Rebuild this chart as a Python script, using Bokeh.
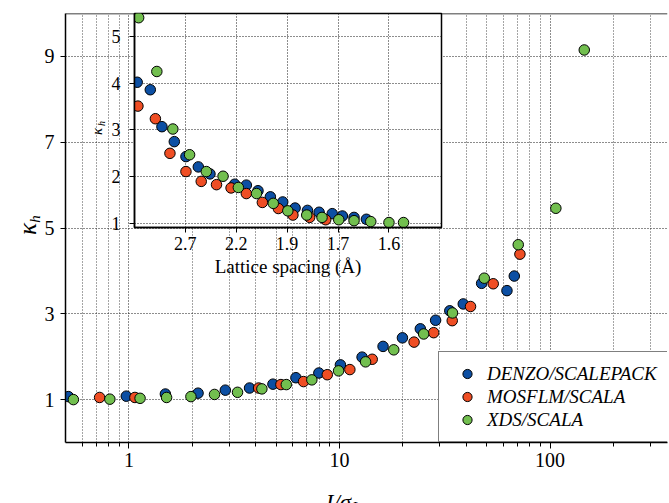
import math

from bokeh.embed import file_html
from bokeh.layouts import column
from bokeh.models import (CustomJSTickFormatter, FixedTicker, Label, Legend,
                          LegendItem, Range1d, Span)
from bokeh.plotting import figure
from bokeh.resources import INLINE

# ---------------------------------------------------------------------------
# Data: kappa_h against I/sigma(I) (main panel) and against resolution (inset)
# ---------------------------------------------------------------------------
series_names = ["DENZO/SCALEPACK", "MOSFLM/SCALA", "XDS/SCALA"]
series_colors = ["#0c4fa3", "#ef4e24", "#72bf4f"]

denzo_isig = [0.516, 0.972, 1.49, 2.13, 2.87, 3.74, 4.83, 6.21, 7.98, 10.1,
              12.8, 16.1, 19.9, 24.2, 28.6, 33.4, 38.7, 47.3, 62.4, 67.6]
denzo_kappa = [1.07, 1.08, 1.13, 1.15, 1.22, 1.27, 1.36, 1.51, 1.62, 1.81,
               1.99, 2.24, 2.44, 2.65, 2.85, 3.07, 3.23, 3.71, 3.54, 3.88]

mosflm_isig = [0.726, 1.068, 4.13, 5.27, 6.75, 8.75, 11.2, 14.3, 22.6, 28.0,
               34.3, 41.9, 53.7, 71.9]
mosflm_kappa = [1.05, 1.05, 1.27, 1.35, 1.42, 1.58, 1.70, 1.94, 2.34, 2.56,
                2.84, 3.17, 3.70, 4.39]

xds_isig = [0.545, 0.812, 1.13, 1.51, 1.97, 2.55, 3.28, 4.28, 5.59, 7.39,
            9.9, 13.3, 18.1, 25.1, 34.4, 48.7, 70.6, 106.5, 145.3]
xds_kappa = [1.00, 1.01, 1.03, 1.05, 1.07, 1.12, 1.17, 1.25, 1.35, 1.46,
             1.67, 1.88, 2.16, 2.53, 3.02, 3.83, 4.61, 5.46, 9.15]

# inset: resolution shells in 1/d^2 (A^-2)
denzo_s = [0.069, 0.087, 0.103, 0.120, 0.136, 0.153, 0.169, 0.203, 0.219,
           0.235, 0.252, 0.269, 0.286, 0.303, 0.319, 0.337, 0.351, 0.367, 0.384]
denzo_kappa_s = [4.02, 3.86, 3.07, 2.75, 2.43, 2.21, 2.06, 1.84, 1.82,
                 1.70, 1.57, 1.46, 1.33, 1.28, 1.24, 1.21, 1.16, 1.13, 1.09]

mosflm_s = [0.070, 0.094, 0.114, 0.136, 0.157, 0.178, 0.198, 0.219, 0.241,
            0.263, 0.283, 0.306, 0.328]
mosflm_kappa_s = [3.51, 3.24, 2.50, 2.11, 1.90, 1.83, 1.76, 1.64, 1.45,
                  1.32, 1.18, 1.13, 1.08]

xds_s = [0.071, 0.096, 0.118, 0.141, 0.164, 0.187, 0.208, 0.233, 0.256,
         0.276, 0.302, 0.323, 0.346, 0.367, 0.390, 0.415, 0.435]
xds_kappa_s = [5.40, 4.25, 3.02, 2.47, 2.11, 2.01, 1.77, 1.64, 1.43,
               1.27, 1.18, 1.13, 1.08, 1.06, 1.04, 1.02, 1.02]

# axis ticks
x_major_ticks = [1, 10, 100]
x_major_labels = ["1", "10", "100"]
x_minor_ticks = [0.6, 0.7, 0.8, 0.9, 2, 3, 4, 5, 6, 7, 8, 9,
                 20, 30, 40, 50, 60, 70, 80, 90, 200, 300]
y_ticks = [1, 3, 5, 7, 9]
inset_x_ticks = [0.135, 0.205, 0.275, 0.345, 0.415]
inset_x_labels = ["2.7", "2.2", "1.9", "1.7", "1.6"]
inset_y_ticks = [1, 2, 3, 4, 5]

SERIF = "Liberation Serif"
GRID = "#1a1a1a"
MINOR_GRID = "#4a4a4a"
W, H = 669, 503
LEFT, RIGHT = 65, 2          # shared side borders (frames of a column line up)
FRAME_W = W - LEFT - RIGHT


def label_formatter(tick_values, tick_texts):
    return CustomJSTickFormatter(
        args=dict(tick_values=tick_values, tick_texts=tick_texts),
        code="""
        const i = tick_values.findIndex(t => Math.abs(t - tick) < 1e-9);
        return i >= 0 ? tick_texts[i] : "";
        """,
    )


# ---------------------------------------------------------------------------
# Main panel
# ---------------------------------------------------------------------------
main = figure(width=W, height=H, x_axis_type="log",
              x_range=Range1d(0.5, 361), y_range=Range1d(0, 10),
              output_backend="svg", toolbar_location=None,
              min_border_left=LEFT, min_border_right=RIGHT,
              min_border_top=13, min_border_bottom=61)
main.outline_line_color = None
main.background_fill_color = "white"
main.border_fill_color = "white"

main.xaxis.ticker = FixedTicker(ticks=x_major_ticks, minor_ticks=x_minor_ticks)
main.xaxis.formatter = label_formatter(x_major_ticks, x_major_labels)
main.yaxis.ticker = FixedTicker(ticks=y_ticks)

for ax in (main.xaxis[0], main.yaxis[0]):
    ax.axis_line_width = 1.5
    ax.axis_line_color = "black"
    ax.major_tick_line_color = "black"
    ax.minor_tick_line_color = "black"
    ax.major_tick_in = 0
    ax.minor_tick_in = 0
    ax.major_label_text_font = SERIF
    ax.major_label_text_font_size = "20px"
    ax.major_label_text_color = "black"
main.xaxis.major_tick_out = 6
main.xaxis.minor_tick_out = 4
main.xaxis.major_label_standoff = 4
main.yaxis.major_tick_out = 5
main.yaxis.minor_tick_out = 0
main.yaxis.major_label_standoff = 6

main.xgrid.grid_line_color = GRID
main.xgrid.grid_line_dash = "1 2"
main.xgrid.minor_grid_line_color = MINOR_GRID
main.xgrid.minor_grid_line_dash = "1 2"
main.ygrid.grid_line_color = GRID
main.ygrid.grid_line_dash = "1 2"

# top border of the panel
main.add_layout(Span(location=10, dimension="width", line_color="black",
                     line_width=1.5))

marker_kw = dict(size=10.5, line_color="black", line_width=1)
r_denzo = main.scatter(denzo_isig, denzo_kappa, fill_color=series_colors[0], **marker_kw)
r_mosflm = main.scatter(mosflm_isig, mosflm_kappa, fill_color=series_colors[1], **marker_kw)
r_xds = main.scatter(xds_isig, xds_kappa, fill_color=series_colors[2], **marker_kw)

legend = Legend(
    items=[LegendItem(label=n, renderers=[r])
           for n, r in zip(series_names, [r_denzo, r_mosflm, r_xds])],
    location=(373, 0),
    label_text_font=SERIF, label_text_font_style="italic",
    label_text_font_size="19px", label_text_color="black",
    glyph_width=36, glyph_height=23, label_height=23, label_width=240,
    label_standoff=2, padding=10, spacing=0,
    border_line_color="black", border_line_width=1.5,
    background_fill_color="white", background_fill_alpha=1.0,
)
main.add_layout(legend)

# ---------------------------------------------------------------------------
# Inset: kappa_h against lattice spacing (frame spans x 134..441, y 13..227)
# ---------------------------------------------------------------------------
INSET_H = 287
inset = figure(width=LEFT + 307 + RIGHT, height=INSET_H,
               x_range=Range1d(0.0653, 0.4872), y_range=Range1d(0.914, 5.49),
               output_backend="svg", toolbar_location=None,
               min_border_left=LEFT, min_border_right=RIGHT,
               min_border_top=13, min_border_bottom=60)
inset.margin = (-H, 0, 0, 134 - LEFT)
inset.border_fill_color = None
inset.background_fill_color = "white"
inset.outline_line_color = "black"
inset.outline_line_width = 1.5

inset.xaxis.ticker = FixedTicker(ticks=inset_x_ticks)
inset.xaxis.formatter = label_formatter(inset_x_ticks, inset_x_labels)
inset.yaxis.ticker = FixedTicker(ticks=inset_y_ticks)
for ax in (inset.xaxis[0], inset.yaxis[0]):
    ax.axis_line_width = 1.5
    ax.axis_line_color = "black"
    ax.major_tick_line_color = "black"
    ax.major_tick_in = 0
    ax.major_tick_out = 5
    ax.minor_tick_out = 0
    ax.minor_tick_in = 0
    ax.major_label_text_font = SERIF
    ax.major_label_text_font_size = "18px"
    ax.major_label_text_color = "black"
inset.xaxis.major_label_standoff = 4
inset.yaxis.major_label_standoff = 9
inset.xaxis.axis_label = "Lattice spacing (Å)"
inset.xaxis.axis_label_text_font = SERIF
inset.xaxis.axis_label_text_font_style = "normal"
inset.xaxis.axis_label_text_font_size = "19px"
inset.xaxis.axis_label_text_color = "black"
inset.xaxis.axis_label_standoff = 3

inset.xgrid.grid_line_color = GRID
inset.xgrid.grid_line_dash = "1 2"
inset.ygrid.grid_line_color = GRID
inset.ygrid.grid_line_dash = "1 2"

inset.scatter(denzo_s, denzo_kappa_s, fill_color=series_colors[0], **marker_kw)
inset.scatter(mosflm_s, mosflm_kappa_s, fill_color=series_colors[1], **marker_kw)
inset.scatter(xds_s, xds_kappa_s, fill_color=series_colors[2], **marker_kw)

# ---------------------------------------------------------------------------
# Transparent layer over the page for the math-style axis titles
# (kappa_h on both vertical axes, I/sigma_I under the main panel).
# Its frame starts at the page's left edge, so x/y below are page pixels.
# ---------------------------------------------------------------------------
titles = figure(width=W, height=H,
                x_range=Range1d(0, FRAME_W), y_range=Range1d(H, 0),
                output_backend="svg", toolbar_location=None, title=None,
                x_axis_location=None, y_axis_location=None,
                min_border_left=LEFT, min_border_right=RIGHT,
                min_border_top=0, min_border_bottom=0)
titles.margin = (-INSET_H, 0, 0, -LEFT)
titles.grid.visible = False
titles.outline_line_color = None
titles.background_fill_color = None
titles.border_fill_color = None

it = dict(text_font=SERIF, text_font_style="italic", text_color="black")
rot = dict(angle=math.pi / 2, text_align="center", text_baseline="middle")
titles.add_layout(Label(x=26.5, y=228.5, text="κ", text_font_size="25px", **rot, **it))
titles.add_layout(Label(x=34, y=218.5, text="h", text_font_size="15px", **rot, **it))
titles.add_layout(Label(x=96.5, y=131, text="κ", text_font_size="15px", **rot, **it))
titles.add_layout(Label(x=101, y=123, text="h", text_font_size="10px", **rot, **it))
titles.add_layout(Label(x=338, y=502, text="I/σ", text_align="center",
                        text_baseline="alphabetic", text_font_size="23px", **it))
titles.add_layout(Label(x=354, y=506, text="I", text_align="center",
                        text_baseline="alphabetic", text_font_size="15px", **it))

layout = column(main, inset, titles)

with open("out.html", "w") as f:
    f.write(file_html(layout, INLINE, title="kappa_h"))
